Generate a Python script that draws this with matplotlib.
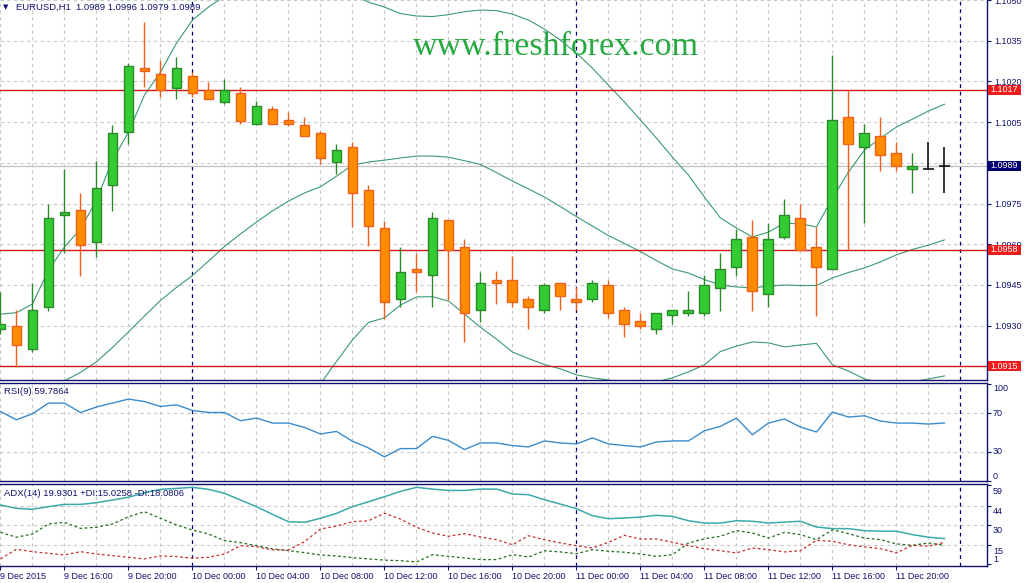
import matplotlib
matplotlib.use("Agg")
import matplotlib.pyplot as plt
from matplotlib.patches import Rectangle
from matplotlib.transforms import blended_transform_factory as btf

plt.rcParams['font.family'] = ['Liberation Sans', 'DejaVu Sans']

# EURUSD H1, 9 Dec 12:00 .. 11 Dec 23:00 (60 bars)
opens = [1.09287, 1.09299, 1.09216, 1.09368, 1.09707, 1.09725, 1.09607, 1.09817, 1.10015, 1.10248,
         1.10227, 1.10177, 1.10220, 1.10167, 1.10125, 1.10156, 1.10044, 1.10097, 1.10057, 1.10038,
         1.10009, 1.09904, 1.09957, 1.09799, 1.09659, 1.09397, 1.09508, 1.09486, 1.09688, 1.09589,
         1.09357, 1.09467, 1.09467, 1.09397, 1.09357, 1.09456, 1.09397, 1.09397, 1.09449, 1.09357,
         1.09316, 1.09287, 1.09339, 1.09346, 1.09346, 1.09438, 1.09515, 1.09626, 1.09416, 1.09626,
         1.09696, 1.09589, 1.09508, 1.10068, 1.09957, 1.09998, 1.09935, 1.09876, 1.09876, 1.0989]
highs = [1.09425, 1.09358, 1.09459, 1.09748, 1.09877, 1.09790, 1.09907, 1.10039, 1.10269, 1.10420,
         1.10279, 1.10291, 1.10234, 1.10199, 1.10209, 1.10178, 1.10128, 1.10109, 1.10086, 1.10069,
         1.10017, 1.09969, 1.09976, 1.09818, 1.09687, 1.09589, 1.09567, 1.09718, 1.09688, 1.09618,
         1.09497, 1.09501, 1.09557, 1.09408, 1.09456, 1.09456, 1.09442, 1.09467, 1.09467, 1.09368,
         1.09346, 1.09346, 1.09357, 1.09427, 1.09486, 1.09567, 1.09655, 1.09688, 1.09677, 1.09766,
         1.09747, 1.09665, 1.10297, 1.10167, 1.10045, 1.10068, 1.09976, 1.09935, 1.09976, 1.0996]
lows = [1.09269, 1.09147, 1.09205, 1.09355, 1.09567, 1.09483, 1.09554, 1.09724, 1.09968, 1.10178,
        1.10143, 1.10136, 1.10143, 1.10136, 1.10115, 1.10045, 1.10044, 1.10044, 1.10036, 1.09998,
        1.09897, 1.09859, 1.09665, 1.09595, 1.09326, 1.09368, 1.09425, 1.09368, 1.09395, 1.09239,
        1.09315, 1.09379, 1.09368, 1.09287, 1.09346, 1.09357, 1.09357, 1.09386, 1.09328, 1.09258,
        1.09287, 1.09269, 1.09305, 1.09337, 1.09337, 1.09355, 1.09484, 1.09355, 1.09368, 1.09618,
        1.09578, 1.09337, 1.09508, 1.09578, 1.09677, 1.09869, 1.09869, 1.09788, 1.09876, 1.0979]
closes = [1.09306, 1.09228, 1.09357, 1.09696, 1.09718, 1.09596, 1.09806, 1.10009, 1.10256, 1.10237,
          1.10167, 1.10248, 1.10156, 1.10136, 1.10167, 1.10055, 1.10108, 1.10044, 1.10044, 1.09998,
          1.09917, 1.09946, 1.09788, 1.09666, 1.09386, 1.09497, 1.09497, 1.09696, 1.09579, 1.09346,
          1.09456, 1.09456, 1.09386, 1.09368, 1.09449, 1.09408, 1.09386, 1.09456, 1.09346, 1.09305,
          1.09298, 1.09346, 1.09357, 1.09357, 1.09449, 1.09508, 1.09618, 1.09427, 1.09618, 1.09707,
          1.09578, 1.09515, 1.10057, 1.09968, 1.10009, 1.09928, 1.09887, 1.09887, 1.09876, 1.0989]

bb_upper = [1.09343, 1.09348, 1.09380, 1.09505, 1.09590, 1.09656, 1.09763, 1.09910, 1.10013, 1.10150,
            1.10234, 1.10341, 1.10426, 1.10474, 1.10514, 1.10544, 1.10566, 1.10580, 1.10588, 1.10588,
            1.10580, 1.10558, 1.10522, 1.10492, 1.10474, 1.10450, 1.10441, 1.10439, 1.10446, 1.10457,
            1.10463, 1.10461, 1.10448, 1.10426, 1.10393, 1.10352, 1.10304, 1.10249, 1.10186, 1.10124,
            1.10058, 1.09991, 1.09921, 1.09855, 1.09774, 1.09697, 1.09660, 1.09627, 1.09645, 1.09678,
            1.09675, 1.09664, 1.09770, 1.09866, 1.09947, 1.09991, 1.10032, 1.10061, 1.10091, 1.10116]
bb_middle = [1.08953, 1.08982, 1.09016, 1.09052, 1.09097, 1.09128, 1.09167, 1.09220, 1.09277, 1.09336,
             1.09393, 1.09441, 1.09485, 1.09538, 1.09592, 1.09638, 1.09682, 1.09723, 1.09759, 1.09789,
             1.09812, 1.09851, 1.09892, 1.09903, 1.09910, 1.09918, 1.09925, 1.09925, 1.09921, 1.09908,
             1.09894, 1.09864, 1.09833, 1.09804, 1.09774, 1.09739, 1.09702, 1.09667, 1.09632, 1.09603,
             1.09573, 1.09540, 1.09509, 1.09494, 1.09470, 1.09450, 1.09443, 1.09439, 1.09446, 1.09450,
             1.09448, 1.09448, 1.09476, 1.09496, 1.09513, 1.09535, 1.09561, 1.09581, 1.09597, 1.09616]
bb_lower = [1.08560, 1.08620, 1.08650, 1.08600, 1.08600, 1.08600, 1.08570, 1.08530, 1.08540, 1.08520,
            1.08550, 1.08540, 1.08540, 1.08600, 1.08670, 1.08730, 1.08800, 1.08870, 1.08930, 1.08990,
            1.09086, 1.09168, 1.09248, 1.09312, 1.09329, 1.09376, 1.09406, 1.09407, 1.09391, 1.09343,
            1.09294, 1.09251, 1.09203, 1.09179, 1.09157, 1.09141, 1.09119, 1.09108, 1.09100, 1.09089,
            1.09086, 1.09093, 1.09108, 1.09130, 1.09156, 1.09205, 1.09225, 1.09240, 1.09237, 1.09222,
            1.09229, 1.09235, 1.09156, 1.09133, 1.09104, 1.09089, 1.09086, 1.09093, 1.09104, 1.09115]

rsi = [71.6, 63.1, 69.3, 80.3, 80.3, 70.6, 76.2, 80.3, 84.4, 81.9,
       76.8, 78.5, 72.7, 70.6, 70.6, 62.1, 64.9, 59.7, 59.7, 55.2,
       48.4, 51.1, 41.0, 34.1, 24.9, 33.4, 33.4, 46.0, 41.9, 32.4,
       39.2, 39.2, 36.5, 35.1, 41.3, 39.2, 38.2, 44.4, 38.2, 36.5,
       35.1, 40.2, 41.3, 41.3, 51.8, 56.3, 64.9, 47.7, 59.7, 63.8,
       55.6, 50.5, 71.0, 65.9, 67.2, 61.8, 59.7, 59.7, 58.7, 59.8]
adx = [44.5, 42.1, 41.4, 43.3, 45.0, 45.0, 46.2, 48.2, 50.2, 53.5,
       56.0, 56.7, 57.5, 56.0, 53.1, 48.2, 43.3, 37.7, 32.3, 31.8,
       34.8, 38.4, 43.3, 46.9, 50.6, 54.5, 57.5, 56.2, 55.2, 55.2,
       56.2, 56.2, 52.6, 52.1, 48.4, 45.2, 41.8, 36.7, 34.5, 35.0,
       35.7, 37.0, 36.2, 33.0, 31.3, 31.3, 33.0, 32.6, 31.3, 32.0,
       32.6, 28.4, 27.2, 27.2, 25.7, 25.3, 25.3, 22.8, 20.9, 19.9]
plus_di = [24.5, 20.9, 23.3, 30.6, 31.8, 27.4, 28.2, 30.6, 35.9, 39.6,
           34.8, 29.9, 26.2, 23.3, 18.4, 16.9, 14.7, 12.3, 11.1, 9.6,
           7.9, 7.2, 5.9, 5.0, 4.1, 3.7, 2.8, 8.1, 6.9, 5.7,
           4.5, 4.5, 8.1, 6.4, 11.0, 10.1, 8.8, 11.8, 10.6, 9.9,
           8.6, 6.9, 8.1, 16.7, 19.8, 21.6, 25.7, 24.0, 20.3, 24.5,
           22.8, 19.1, 26.4, 23.5, 20.3, 19.1, 16.0, 15.0, 16.7, 15.0]
minus_di = [5.0, 12.1, 10.3, 9.1, 7.9, 10.3, 8.6, 7.4, 6.2, 5.0,
            7.2, 6.7, 5.5, 6.2, 8.6, 14.7, 14.0, 11.6, 11.6, 17.6,
            26.9, 29.1, 32.3, 33.0, 38.5, 34.2, 28.2, 24.0, 21.6, 23.5,
            21.1, 19.1, 15.4, 22.0, 19.1, 16.7, 14.7, 13.0, 17.2, 22.3,
            19.6, 19.6, 17.2, 14.7, 12.5, 11.0, 9.4, 13.0, 11.8, 10.1,
            11.0, 18.7, 17.9, 15.4, 13.8, 12.5, 9.4, 15.0, 14.3, 17.2]

time_ticks = [0, 4, 8, 12, 16, 20, 24, 28, 32, 36, 40, 44, 48, 52, 56]
time_labels = ['9 Dec 2015', '9 Dec 16:00', '9 Dec 20:00', '10 Dec 00:00', '10 Dec 04:00',
               '10 Dec 08:00', '10 Dec 12:00', '10 Dec 16:00', '10 Dec 20:00', '11 Dec 00:00',
               '11 Dec 04:00', '11 Dec 08:00', '11 Dec 12:00', '11 Dec 16:00', '11 Dec 20:00']
price_ticks = [1.0915, 1.0930, 1.0945, 1.0960, 1.0975, 1.0990, 1.1005, 1.1020, 1.1035, 1.1050]
levels = [1.1017, 1.0958, 1.0915]
bid = 1.0989
day_starts = [12, 36, 60]

NAVY = '#12126e'
GRID = '#c8c8c8'
FS = 6.5

W, H = 1029, 583
fig = plt.figure(figsize=(W / 100, H / 100), dpi=100)
fig.patch.set_facecolor('white')


def rect(top, bottom, right=987):
    return [0, 1 - bottom / H, right / W, (bottom - top) / H]


ax = fig.add_axes(rect(0, 380))
ax_rsi = fig.add_axes(rect(382.5, 481), sharex=ax)
ax_adx = fig.add_axes(rect(483.5, 566), sharex=ax)

x = list(range(len(closes)))
xlim = (-0.03, 61.66)

for a in (ax, ax_rsi, ax_adx):
    a.set_facecolor('white')
    a.spines['left'].set_visible(False)
    for s in ('right', 'bottom', 'top'):
        a.spines[s].set_color(NAVY)
        a.spines[s].set_linewidth(1.0)
    a.yaxis.tick_right()
    a.tick_params(axis='y', length=3, color=NAVY, labelcolor=NAVY, labelsize=FS, pad=2)
    # vertical grid every 2 bars, day separators darker
    for k in range(0, 62, 2):
        if k in day_starts:
            a.axvline(k, color='#000070', lw=0.9, ls=(0, (3, 3)), zorder=0.6)
        else:
            a.axvline(k, color=GRID, lw=0.8, ls=(0, (3, 3)), zorder=0.5)
ax.spines['top'].set_visible(False)
ax.tick_params(axis='x', bottom=False, labelbottom=False)
ax_rsi.tick_params(axis='x', bottom=False, labelbottom=False)

# ---- price panel
ax.set_xlim(*xlim)
ax.set_ylim(1.09100, 1.10500)
for p in price_ticks:
    ax.axhline(p, color=GRID, lw=0.8, ls=(0, (3, 3)), zorder=0.5)
ax.axhline(bid, color='#c0c0c0', lw=0.9, zorder=0.7)
for p in levels:
    ax.axhline(p, color='#d01818', lw=1.0, zorder=1.5)
ax.set_yticks(price_ticks)
# labels fully hidden under the level boxes are left empty
covered = [1.0915, 1.0990]
ax.set_yticklabels(['' if p in covered else '%.4f' % p for p in price_ticks])

for band in (bb_upper, bb_middle, bb_lower):
    ax.plot(x, band, color='#3a9a72', lw=0.8, zorder=1.2)

for i in x:
    o, h, l, c = opens[i], highs[i], lows[i], closes[i]
    if o == c:
        ax.vlines(i, l, h, color='black', lw=1.1, zorder=2)
        ax.hlines(c, i - 0.36, i + 0.36, color='black', lw=1.1, zorder=2)
        continue
    if c > o:
        fill, edge = '#33cc33', '#2a8a2a'
    else:
        fill, edge = '#ff8c00', '#f0601a'
    ax.vlines(i, l, h, color=edge, lw=1.0, zorder=2)
    ax.bar(i, abs(c - o), bottom=min(o, c), width=0.62, color=fill,
           edgecolor=edge, linewidth=1.0, zorder=3)

# price labels on the right axis
tr = btf(fig.transFigure, ax.transData)
half = 5 * (ax.get_ylim()[1] - ax.get_ylim()[0]) / 380
for p, col in [(levels[0], '#ee1c1c'), (levels[1], '#ee1c1c'), (levels[2], '#ee1c1c'), (bid, '#000070')]:
    ax.add_patch(Rectangle((988 / W, p - half), 33 / W, 2 * half, transform=tr,
                           facecolor=col, edgecolor='none', clip_on=False, zorder=5))
    ax.text(990.5 / W, p, '%.4f' % p, transform=tr, color='white', fontsize=FS,
            va='center', ha='left', zorder=6, clip_on=False)

# ---- RSI panel
ax_rsi.set_ylim(0, 101.5)
for v in (70, 30):
    ax_rsi.axhline(v, color=GRID, lw=0.8, ls=(0, (3, 3)), zorder=0.5)
ax_rsi.plot(x, rsi, color='#3a8ccc', lw=1.0, zorder=2)
ax_rsi.set_yticks([0, 30, 70, 100])
ax_rsi.tick_params(axis='y', labelright=False)
for v, va in [(100, 'top'), (70, 'center'), (30, 'center'), (0, 'bottom')]:
    ax_rsi.annotate(str(v), xy=(1, v), xycoords=('axes fraction', 'data'), xytext=(4.3, 0),
                    textcoords='offset points', ha='left', va=va, color=NAVY,
                    fontsize=FS, annotation_clip=False)

# ---- ADX panel
ax_adx.set_ylim(-0.2, 60.3)
for v in (44, 30, 15):
    ax_adx.axhline(v, color=GRID, lw=0.8, ls=(0, (3, 3)), zorder=0.5)
ax_adx.plot(x, adx, color='#3aaaaa', lw=1.1, zorder=2)
ax_adx.plot(x, plus_di, color='#1f6e1f', lw=0.9, ls=(0, (2.2, 2)), zorder=2)
ax_adx.plot(x, minus_di, color='#c83030', lw=0.9, ls=(0, (2.2, 2)), zorder=2)
ax_adx.set_yticks([1, 15, 30, 44, 59])
ax_adx.tick_params(axis='y', labelright=False)
for v in (59, 44, 30, 15):
    ax_adx.annotate(str(v), xy=(1, v), xycoords=('axes fraction', 'data'), xytext=(4.3, -1.2),
                    textcoords='offset points', ha='left', va='top', color=NAVY,
                    fontsize=FS, annotation_clip=False)
ax_adx.annotate('1', xy=(1, 1), xycoords=('axes fraction', 'data'), xytext=(4.3, 0),
                textcoords='offset points', ha='left', va='bottom', color=NAVY,
                fontsize=FS, annotation_clip=False)

ax_adx.set_xticks(time_ticks)
ax_adx.set_xticklabels(time_labels)
ax_adx.tick_params(axis='x', length=3, color=NAVY, labelcolor=NAVY, labelsize=FS, pad=1.5)
for lbl in ax_adx.get_xticklabels():
    lbl.set_ha('left')
ax_adx.set_xlim(*xlim)

# ---- headers and watermark
fig.text(3 / W, 1 - 7.5 / H, '\u25bc', color=NAVY, fontsize=5, va='center', ha='left',
         family='DejaVu Sans')
fig.text(16 / W, 1 - 7 / H, 'EURUSD,H1  1.0989 1.0996 1.0979 1.0989', color=NAVY,
         fontsize=FS + 0.3, va='center', ha='left')
fig.text(4 / W, 1 - 391.5 / H, 'RSI(9) 59.7864', color=NAVY, fontsize=FS + 0.3,
         va='center', ha='left')
fig.text(4 / W, 1 - 493.5 / H, 'ADX(14) 19.9301 +DI:15.0258 -DI:18.0806', color=NAVY,
         fontsize=FS + 0.3, va='center', ha='left')
fig.text(556 / W, 1 - 55 / H, 'www.freshforex.com', color='#26aa40', fontsize=24.5,
         family='Liberation Serif', ha='center', va='baseline', zorder=10)

fig.savefig('out.png', dpi=100, facecolor='white')
